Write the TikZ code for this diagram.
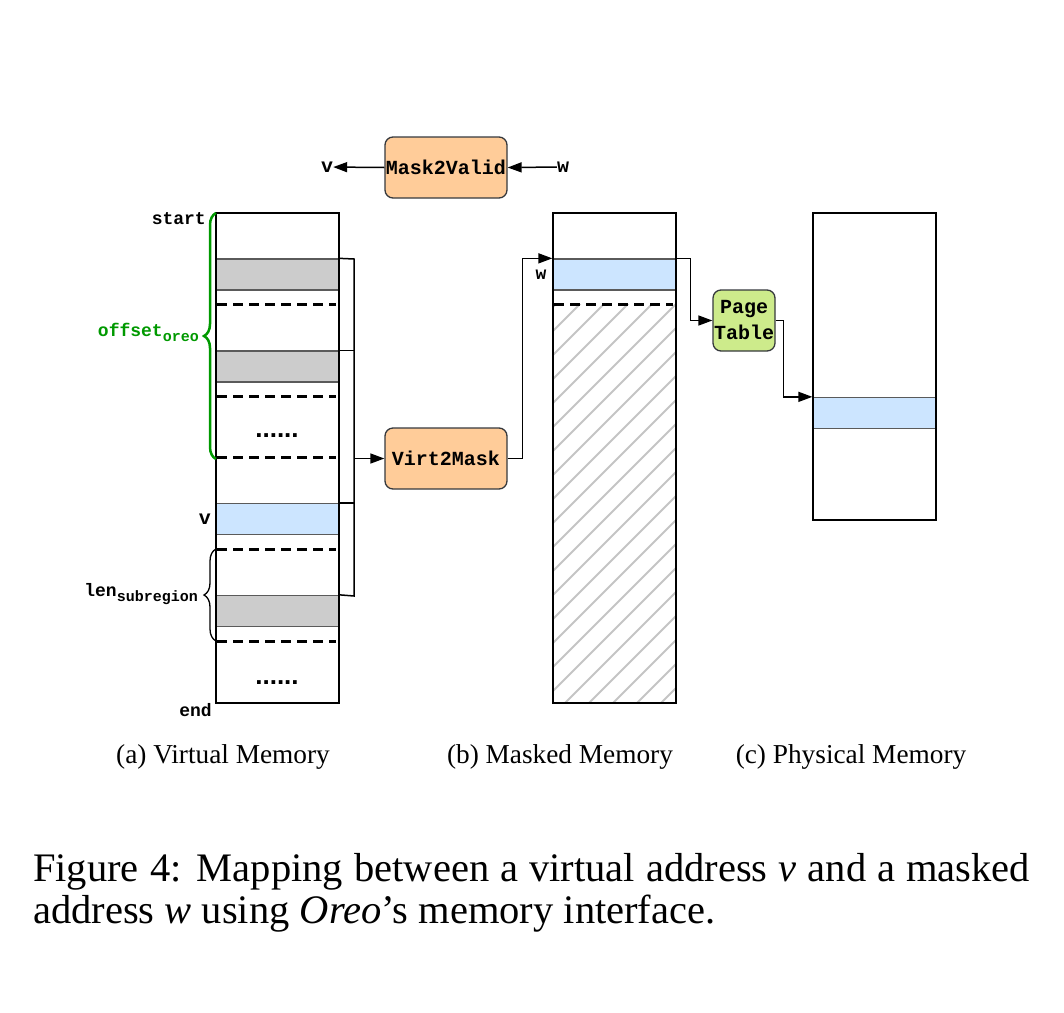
\documentclass[tikz,border=0pt]{standalone}
\usepackage{fontspec}
\setmainfont{Liberation Serif}
\setmonofont{Liberation Mono}
\setsansfont{Liberation Sans}
\usetikzlibrary{arrows.meta,decorations.pathreplacing}

\definecolor{grayfill}{HTML}{CCCCCC}
\definecolor{bluefill}{HTML}{CCE5FF}
\definecolor{orangefill}{HTML}{FFCC99}
\definecolor{greenfill}{HTML}{CDEB8B}
\definecolor{edgegray}{HTML}{36393D}
\definecolor{rowedge}{HTML}{5A5A5A}
\definecolor{hatchgray}{HTML}{C4C4C4}
\definecolor{offgreen}{HTML}{009900}

\begin{document}
\begin{tikzpicture}[x=1pt,y=-1pt,
  colframe/.style={draw=black, line width=1.5pt, minimum width=123pt, inner sep=0pt},
  grayrow/.style={draw=rowedge, fill=grayfill, line width=1.3pt, minimum width=123pt, minimum height=31pt, inner sep=0pt},
  bluerow/.style={draw=rowedge, fill=bluefill, line width=1.3pt, minimum width=123pt, minimum height=31pt, inner sep=0pt},
  fnbox/.style={draw=edgegray, line width=1.3pt, rounded corners=8pt, inner sep=0pt, minimum height=61pt,
     font=\fontsize{20}{26}\selectfont\ttfamily\bfseries, align=center},
  lbl/.style={inner sep=0pt, font=\fontsize{18}{18}\selectfont\ttfamily\bfseries},
  dashline/.style={line width=3pt, dash pattern=on 10pt off 6pt},
  dots/.style={inner sep=0pt, font=\fontsize{26}{26}\selectfont\sffamily\bfseries},
  conn/.style={line width=1.5pt},
  arr/.style={line width=1.5pt, -{Triangle[length=14pt,width=10pt]}},
  sublbl/.style={inner sep=0pt, font=\fontsize{27.3}{30}\selectfont},
  figcap/.style={inner sep=0pt, anchor=base west, font=\fontsize{40.5}{44}\selectfont}
]
\useasboundingbox (0,0) rectangle (1064,1012);

% ---------- hatch in masked memory ----------
\begin{scope}
  \clip (553,304) rectangle (676,703);
  \foreach \k in {-420,-396,...,140}
    \draw[hatchgray, line width=2pt] (553+\k,703) -- ++(440,-440);
\end{scope}

% ---------- rows ----------
\node[grayrow] (g1) at (277.5,274.5) {};
\node[grayrow] (g2) at (277.5,366.5) {};
\node[bluerow] (vrow) at (277.5,519) {};
\node[grayrow] (g3) at (277.5,611) {};
\node[bluerow] (wrow) at (614.5,274.5) {};
\node[bluerow] (prow) at (874.5,413) {};

% ---------- dashed separators ----------
\foreach \yy in {304,396,457,549,641}
  \draw[dashline] (217,\yy) -- (336,\yy);
\draw[dashline] (554,304) -- (673,304);

% ---------- dots ----------
\node[dots] (dots1) at (277,436) {......};
\node[dots] (dots2) at (277,683) {......};

% ---------- column frames ----------
\node[colframe, minimum height=490pt] (vm) at (277.5,458) {};
\node[colframe, minimum height=490pt] (mm) at (614.5,458) {};
\node[colframe, minimum height=307pt] (pm) at (874.5,366.5) {};

% ---------- function boxes ----------
\node[fnbox, fill=orangefill, minimum width=122pt] (m2v) at (446,167.5) {Mask2Valid};
\node[fnbox, fill=orangefill, minimum width=122pt] (v2m) at (446,458.5) {Virt2Mask};
\node[fnbox, fill=greenfill, minimum width=62pt] (pt) at (744,320.5) {Page\\Table};

% ---------- labels ----------
\node[lbl, font=\fontsize{20}{20}\selectfont\ttfamily\bfseries] (vtop) at (327,167) {v};
\node[lbl, font=\fontsize{20}{20}\selectfont\ttfamily\bfseries] (wtop) at (563,167) {w};
\node[lbl, anchor=east] (start) at (206,219) {start};
\node[lbl, anchor=east] (endl) at (212,710) {end};
\node[lbl, anchor=east, font=\fontsize{20}{20}\selectfont\ttfamily\bfseries] (vlab) at (211,519) {v};
\node[lbl] (wlab) at (541,275) {w};
\node[lbl, anchor=east, text=offgreen] (offs) at (199,332)
  {offset\raisebox{-5pt}{\fontsize{15}{15}\selectfont oreo}};
\node[lbl, anchor=east] (lens) at (198,594)
  {len\raisebox{-5pt}{\fontsize{15}{15}\selectfont subregion}};

% ---------- braces ----------
\draw[decorate, decoration={brace, amplitude=12pt}, offgreen, line width=2.5pt]
  (216,459) -- (216,213);
\draw[decorate, decoration={brace, amplitude=12pt}, black, line width=1.3pt]
  (216,641) -- (216,549);

% ---------- connectors ----------
\coordinate (busTop) at (354,259);
\coordinate (busBot) at (354,596);
\draw[conn] (g1.north east) -- (busTop) -- (busBot) -- (g3.north east);
\draw[conn] (g2.north east) -- (g2.north east -| busTop);
\draw[conn] (vrow.north east) -- (vrow.north east -| busTop);
\draw[arr] (v2m.west -| busTop) -- (v2m.west);
\draw[arr] (v2m.east) -- ++(15,0) |- (wrow.north west);
\draw[arr] (wrow.north east) -- ++(14,0) |- (pt.west);
\draw[arr] (pt.east) -- ++(8,0) |- (prow.north west);
\draw[arr] (wtop) -- (m2v.east);
\draw[arr] (m2v.west) -- (vtop);

% ---------- sub captions ----------
\node[sublbl] (capa) at (223,757) {(a) Virtual Memory};
\node[sublbl] (capb) at (560,757) {(b) Masked Memory};
\node[sublbl] (capc) at (851,757) {(c) Physical Memory};

% ---------- figure caption ----------
\node[figcap] (cap1) at (33,881) {\makebox[997pt][s]{Figure 4: Mapping between a virtual address \textit{v} and a masked}};
\node[figcap] (cap2) at (33,923) {address \textit{w} using \textit{Oreo}’s memory interface.};
\end{tikzpicture}
\end{document}
